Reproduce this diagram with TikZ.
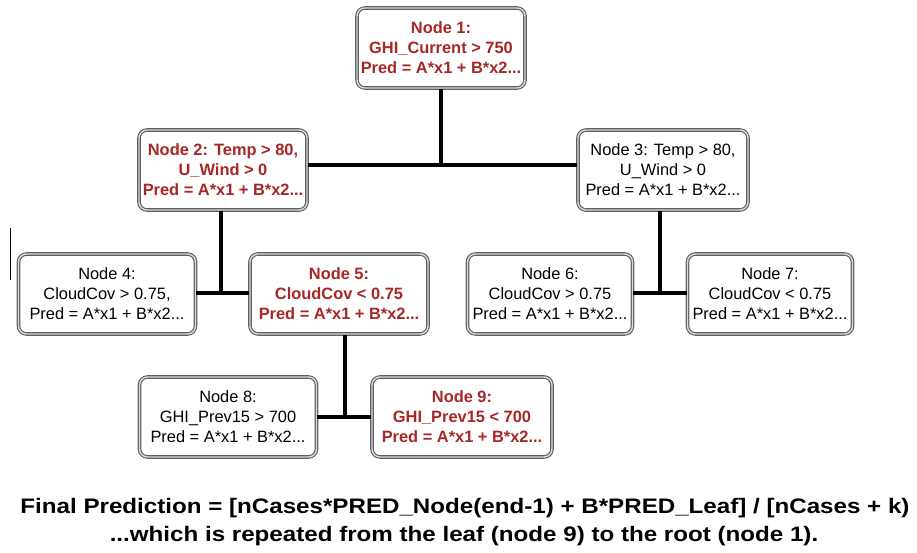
\documentclass[tikz,border=0pt]{standalone}
\usepackage{fontspec}
\setmainfont{Liberation Sans}
\usetikzlibrary{positioning}
\definecolor{splitred}{RGB}{168,38,38}
\definecolor{boxgray}{RGB}{95,95,95}
\tikzset{
    treenode/.style={
        draw=boxgray, double=white!85!black, double distance=1.4pt,
        line width=1.1pt, rounded corners=8pt, fill=white,
        align=center, minimum width=168pt, minimum height=80pt,
        inner sep=1pt, font=\fontsize{16.4}{20}\selectfont
    },
    pathnode/.style={
        treenode, text=splitred,
        font=\bfseries\fontsize{16.4}{20}\selectfont
    },
    branch/.style={line width=3.5pt},
    caption/.style={anchor=base, font=\bfseries\fontsize{21}{25}\selectfont}
}
\newcommand{\widetext}[1]{\scalebox{1.15}[1]{#1}}

\begin{document}
\begin{tikzpicture}[x=1pt, y=-1pt]

    \useasboundingbox (0,0) rectangle (917,552);

    % Nodos del arbol
    \node[pathnode]                       (n1) at (441,48)  {Node 1:\\GHI\_Current > 750\\Pred = A*x1 + B*x2...};
    \node[pathnode]                       (n2) at (223,170) {Node 2: Temp > 80,\\U\_Wind > 0\\Pred = A*x1 + B*x2...};
    \node[treenode, minimum width=170pt]  (n3) at (663,170) {Node 3: Temp > 80,\\U\_Wind > 0\\Pred = A*x1 + B*x2...};
    \node[treenode, minimum width=177pt]  (n4) at (107,294) {Node 4:\\CloudCov > 0.75,\\Pred = A*x1 + B*x2...};
    \node[pathnode, minimum width=178pt]  (n5) at (339,294) {Node 5:\\CloudCov < 0.75\\Pred = A*x1 + B*x2...};
    \node[treenode, minimum width=165pt]  (n6) at (550,294) {Node 6:\\CloudCov > 0.75\\Pred = A*x1 + B*x2...};
    \node[treenode, minimum width=165pt]  (n7) at (770,294) {Node 7:\\CloudCov < 0.75\\Pred = A*x1 + B*x2...};
    \node[treenode, minimum width=177pt]  (n8) at (228,417) {Node 8:\\GHI\_Prev15 > 700\\Pred = A*x1 + B*x2...};
    \node[pathnode, minimum width=180pt]  (n9) at (462,417) {Node 9:\\GHI\_Prev15 < 700\\Pred = A*x1 + B*x2...};

    % Puntos de union
    \coordinate (j1) at (441,165);
    \coordinate (j2) at (221,293);
    \coordinate (j3) at (660,293);
    \coordinate (j5) at (345,417);

    % Ramas
    \draw[branch] (n1) -- (j1);
    \draw[branch] (n2.east |- j1) -- (n3.west |- j1);
    \draw[branch] (n2.south -| j2) -- (j2);
    \draw[branch] (n4.east |- j2) -- (n5.west |- j2);
    \draw[branch] (n3.south -| j3) -- (j3);
    \draw[branch] (n6.east |- j3) -- (n7.west |- j3);
    \draw[branch] (n5.south -| j5) -- (j5);
    \draw[branch] (n8.east |- j5) -- (n9.west |- j5);

    % Marca suelta a la izquierda
    \draw[line width=0.7pt] (10,228) -- (10,280);

    % Texto final
    \node[caption] (final) at (465,513)
        {\widetext{Final Prediction = [nCases*PRED\_Node(end-1) + B*PRED\_Leaf] / [nCases + k)}};
    \node[caption] (note) at (464,541)
        {\widetext{...which is repeated from the leaf (node 9) to the root (node 1).}};

\end{tikzpicture}
\end{document}
